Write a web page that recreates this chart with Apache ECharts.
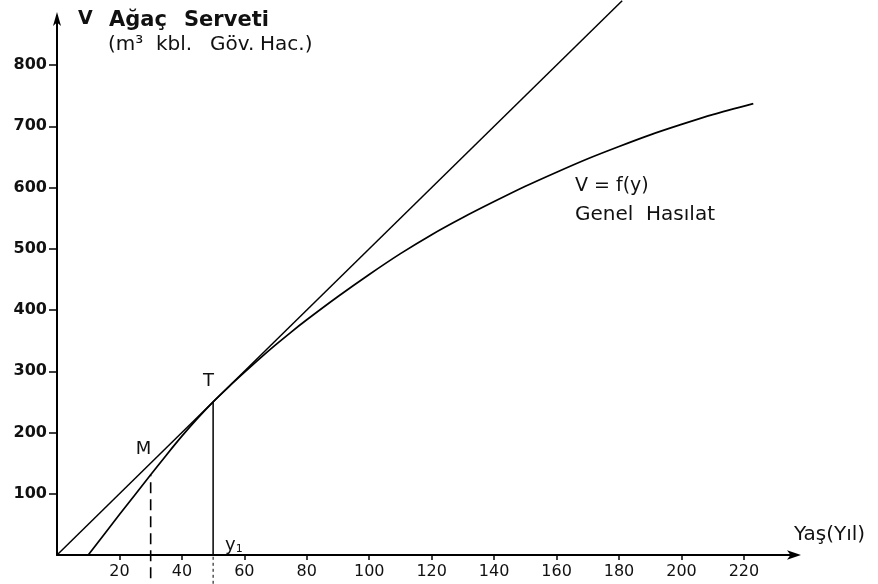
<!DOCTYPE html>
<html>
<head>
<meta charset="utf-8">
<script src="https://cdn.jsdelivr.net/npm/echarts@6/dist/echarts.min.js"></script>
<style>html,body{margin:0;padding:0;background:#fff;}#c{width:878px;height:584px;}</style>
</head>
<body>
<div id="c"></div>
<script>
// Genel hasılat eğrisi V = f(y)
const ages    = [10, 20, 30, 35, 40, 45, 50, 55, 60, 65, 70, 75, 80, 90, 100, 110, 120, 130, 140, 150, 160, 170, 180, 190, 200, 210, 223];
const volumes = [0, 66, 131, 163, 194, 223, 250, 274.5, 298, 321, 343, 364, 384, 422, 458, 492, 523, 551, 577, 602, 625, 647, 667, 686, 703, 719, 737];
// Orijinden geçen teğet
const tangentAges = [0, 181];
const tangentVals = [0, 905];
// Noktalar
const pointT = [50, 250];
const pointM = [30, 131];
const belowM = -38;
const belowT = -47;
// Eksen işaretleri
const xTicks = [20, 40, 60, 80, 100, 120, 140, 160, 180, 200, 220];
const yTicks = [100, 200, 300, 400, 500, 600, 700, 800];

const FONT = 'DejaVu Sans';
const chart = echarts.init(document.getElementById('c'), null, {renderer: 'canvas'});

const zip = (a, b) => a.map((v, i) => [v, b[i]]);
const lineBase = {type: 'line', symbol: 'none', silent: true, animation: false, clip: false};

chart.setOption({
  backgroundColor: '#fff',
  animation: false,
  grid: {left: 57, right: 81, top: 16, bottom: 29},
  xAxis: {
    type: 'value', min: 0, max: 237,
    splitLine: {show: false},
    axisLine: {show: true, lineStyle: {color: '#000', width: 2}, symbol: ['none', 'arrow'], symbolSize: [7, 14], symbolOffset: [0, 4]},
    axisTick: {show: true, inside: false, length: 5, lineStyle: {color: '#000', width: 1.5}, customValues: xTicks},
    axisLabel: {show: true, margin: 9, color: '#111', fontFamily: FONT, fontSize: 16, customValues: xTicks}
  },
  yAxis: {
    type: 'value', min: 0, max: 880,
    splitLine: {show: false},
    axisLine: {show: true, lineStyle: {color: '#000', width: 2}, symbol: ['none', 'arrow'], symbolSize: [6, 14], symbolOffset: [0, 4]},
    axisTick: {show: true, inside: false, length: 8, lineStyle: {color: '#000', width: 1.5}, customValues: yTicks},
    axisLabel: {show: true, margin: 10, color: '#111', fontFamily: FONT, fontSize: 16, fontWeight: 'bold', customValues: yTicks}
  },
  series: [
    Object.assign({}, lineBase, {name: 'V = f(y)', data: zip(ages, volumes), smooth: 0.25,
      lineStyle: {color: '#000', width: 1.7}}),
    Object.assign({}, lineBase, {name: 'tangent', data: zip(tangentAges, tangentVals),
      lineStyle: {color: '#000', width: 1.5}}),
    Object.assign({}, lineBase, {name: 'M', data: [[pointM[0], belowM], [pointM[0], pointM[1]]],
      lineStyle: {color: '#000', width: 1.6, type: [11, 6]}}),
    Object.assign({}, lineBase, {name: 'T', data: [[pointT[0], 0], [pointT[0], pointT[1]]],
      lineStyle: {color: '#000', width: 1.5}}),
    Object.assign({}, lineBase, {name: 'T2', data: [[pointT[0], belowT], [pointT[0], 0]],
      lineStyle: {color: '#000', width: 1, type: [3, 3]}})
  ]
});

const pT = chart.convertToPixel({gridIndex: 0}, pointT);
const pM = chart.convertToPixel({gridIndex: 0}, pointM);
const p0 = chart.convertToPixel({gridIndex: 0}, [0, 0]);
const pEnd = chart.convertToPixel({gridIndex: 0}, [237, 0]);
const pTop = chart.convertToPixel({gridIndex: 0}, [0, 880]);

function txt(text, x, y, size, weight, align) {
  return {type: 'text', x: x, y: y, silent: true,
    style: {text: text, fill: '#111', fontFamily: FONT, fontSize: size, fontWeight: weight || 'normal',
      align: align || 'left', verticalAlign: 'top'}};
}

chart.setOption({
  graphic: [
    txt('V', pTop[0] + 21, pTop[1] - 6, 19, 'bold'),
    txt('Ağaç', pTop[0] + 52, pTop[1] - 6, 21, '600'),
    txt('Serveti', pTop[0] + 127, pTop[1] - 6, 21, '600'),
    txt('(m³', pTop[0] + 51, pTop[1] + 19, 20, 'normal'),
    txt('kbl.', pTop[0] + 99, pTop[1] + 19, 20, 'normal'),
    txt('Göv.', pTop[0] + 153, pTop[1] + 19, 20, 'normal'),
    txt('Hac.)', pTop[0] + 203, pTop[1] + 19, 20, 'normal'),
    txt('V = f(y)', 575, 177, 19, 'normal'),
    txt('Genel  Hasılat', 575, 205, 20, 'normal'),
    txt('T', pT[0] - 10, pT[1] - 30, 18, 'normal'),
    txt('M', pM[0] - 15, pM[1] - 34, 18, 'normal'),
    {type: 'text', x: pT[0] + 12, y: p0[1] - 19, silent: true,
      style: {text: '{a|y}{b|1}', fontFamily: FONT, fill: '#111', verticalAlign: 'top',
        rich: {a: {fontSize: 18, fontFamily: FONT, fill: '#111'}, b: {fontSize: 11, fontFamily: FONT, fill: '#111', padding: [8, 0, 0, 0]}}}},
    txt('Yaş(Yıl)', pEnd[0] - 3, p0[1] - 30, 20, 'normal')
  ]
});
</script>
</body>
</html>
